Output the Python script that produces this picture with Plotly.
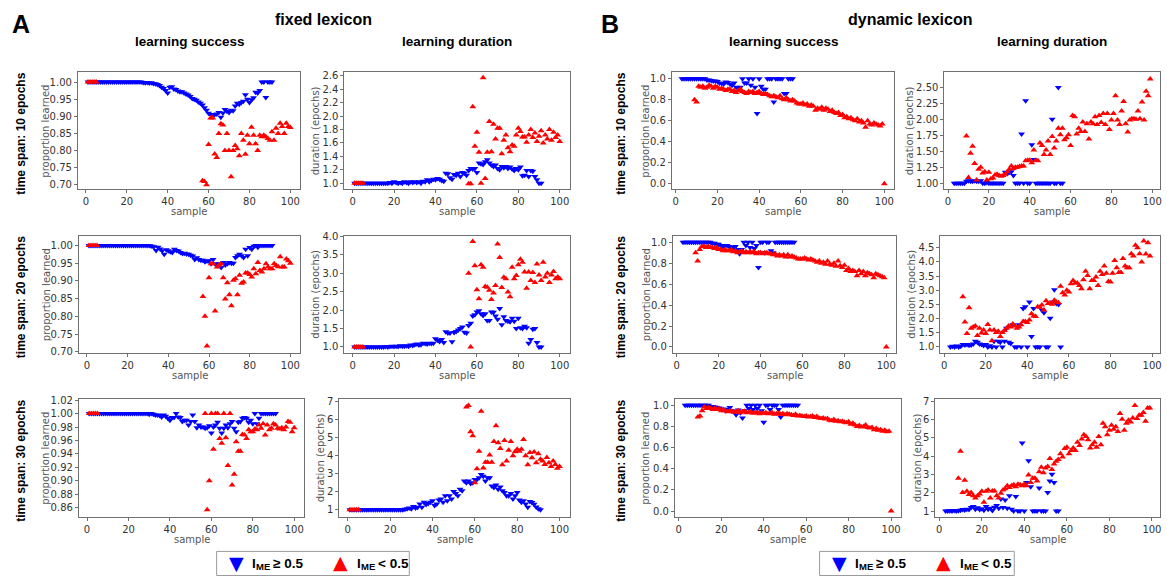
import plotly.graph_objects as go

W, H = 1167, 581

# ------------------------------------------------------------------ DATA
x_ticks = [0, 20, 40, 60, 80, 100]

# ---- A: fixed lexicon, time span 10 epochs
a10_succ_blue_x = list(range(1, 92))
a10_succ_blue_y = [1.0, 1.0, 1.0, 1.0, 1.0, 1.0, 1.0, 1.0, 1.0, 1.0,
                   1.0, 1.0, 1.0, 1.0, 1.0, 1.0, 1.0, 1.0, 1.0, 1.0,
                   1.0, 1.0, 1.0, 1.0, 1.0, 1.0, 1.0,
                   0.999, 0.998, 0.999, 0.997, 0.998, 0.996, 0.995, 0.993,
                   0.99, 0.985, 0.981, 0.975, 0.968, 0.985, 0.986, 0.98, 0.978, 0.974,
                   0.972, 0.972, 0.968, 0.965, 0.962, 0.958, 0.952, 0.95, 0.947, 0.942,
                   0.938, 0.933, 0.925, 0.918, 0.909,
                   0.905, 0.9, 0.905, 0.907, 0.911, 0.897, 0.91, 0.92, 0.915, 0.911,
                   0.918, 0.916, 0.93, 0.938, 0.935, 0.94, 0.944, 0.963, 0.95, 0.94,
                   0.948, 0.954, 0.97, 0.968, 0.975, 1.0, 1.0, 0.955, 1.0, 1.0, 1.0]
a10_succ_red_x = [1, 2, 3, 4, 5] + list(range(57, 101))
a10_succ_red_y = [1.0, 1.0, 1.0, 1.0, 1.0,
                  0.712, 0.71, 0.70, 0.818, 0.895, 0.895, 0.79, 0.78, 0.85, 0.878,
                  0.875, 0.80, 0.85, 0.80, 0.724, 0.80, 0.815, 0.805, 0.785, 0.85,
                  0.83, 0.789, 0.845, 0.82, 0.868, 0.845, 0.82, 0.80, 0.845, 0.84,
                  0.845, 0.84, 0.835, 0.83, 0.855, 0.83, 0.865, 0.85, 0.88, 0.87,
                  0.85, 0.88, 0.87, 0.867]
a10_dur_blue_x = list(range(1, 92))
a10_dur_blue_y = [1.0, 1.0, 1.0, 1.0, 1.0, 1.0, 1.0, 1.0, 1.0, 1.0,
                  1.0, 1.0, 1.0, 1.0, 1.0, 1.0, 1.0, 1.01, 1.0,
                  1.02, 1.01, 1.0, 1.01, 1.0, 1.02,
                  1.01, 1.0, 1.02, 1.01, 1.02, 1.01, 1.02, 1.0, 1.03, 1.02,
                  1.05, 1.02, 1.04, 1.06, 1.05, 1.07, 1.06, 1.04, 1.03, 1.15,
                  1.14, 1.08, 1.06, 1.13, 1.12, 1.15, 1.1, 1.16, 1.15, 1.12,
                  1.19, 1.22, 1.21, 1.22, 1.16, 1.3, 1.29, 1.28, 1.32, 1.35,
                  1.3, 1.27, 1.25, 1.27, 1.22, 1.2, 1.25, 1.23, 1.25, 1.22,
                  1.24, 1.21, 1.19, 1.22, 1.2, 1.24, 1.11, 1.12, 1.19, 1.1,
                  1.19, 1.18, 1.1, 1.05, 1.0, 1.0]
a10_dur_red_x = [1, 2, 3, 4, 5] + list(range(56, 101))
a10_dur_red_y = [1.0, 1.0, 1.0, 1.0, 1.0,
                 0.99, 0.99, 2.14, 1.55, 1.76, 1.46, 1.0, 2.57, 1.07, 1.46,
                 1.92, 1.47, 1.88, 1.66, 1.82, 1.82, 1.44, 1.64, 1.72, 1.53,
                 1.47, 1.57, 1.55, 1.72, 1.82, 1.77, 1.69, 1.69, 1.61, 1.72,
                 1.80, 1.68, 1.75, 1.62, 1.7, 1.78, 1.6, 1.72, 1.66, 1.8,
                 1.64, 1.76, 1.68, 1.72, 1.62]

# ---- A: fixed lexicon, time span 20 epochs
a20_succ_blue_x = list(range(1, 92))
a20_succ_blue_y = [1.0, 1.0, 1.0, 1.0, 1.0, 1.0, 1.0, 1.0, 1.0, 1.0,
                   1.0, 1.0, 1.0, 1.0, 1.0, 1.0, 1.0, 1.0, 1.0, 1.0,
                   1.0, 1.0, 1.0, 1.0, 1.0, 1.0, 1.0, 1.0, 1.0, 1.0,
                   0.999, 0.998, 0.996, 0.986, 0.995, 0.99, 0.985, 0.975, 0.988, 0.985,
                   0.982, 0.98, 0.989, 0.986, 0.984, 0.98, 0.977, 0.978, 0.976, 0.975,
                   0.972, 0.97, 0.96, 0.965, 0.96, 0.958, 0.958, 0.954, 0.956, 0.957,
                   0.948, 0.96, 0.948, 0.943, 0.948, 0.938, 0.952, 0.945, 0.948, 0.952,
                   0.95, 0.95, 0.966, 0.971, 0.975, 0.971, 0.966, 0.989, 0.971, 0.994,
                   0.989, 0.998, 1.0, 0.995, 1.0, 1.0, 1.0, 1.0, 1.0, 1.0, 1.0]
a20_succ_red_x = [1, 2, 3, 4, 5] + list(range(57, 101))
a20_succ_red_y = [1.0, 1.0, 1.0, 1.0, 1.0,
                  0.856, 0.80, 0.716, 0.909, 0.948, 0.948, 0.815, 0.939, 0.945, 0.948,
                  0.909, 0.849, 0.895, 0.861, 0.83, 0.902, 0.906, 0.861, 0.916, 0.893,
                  0.897, 0.922, 0.922, 0.918, 0.911, 0.934, 0.92, 0.952, 0.929, 0.925,
                  0.934, 0.948, 0.939, 0.934, 0.934, 0.948, 0.943, 0.94, 0.968, 0.939,
                  0.939, 0.962, 0.957, 0.95]
a20_dur_blue_x = list(range(1, 92))
a20_dur_blue_y = [1.0, 1.0, 1.0, 1.0, 1.0, 1.0, 1.0, 1.0, 1.0, 1.0,
                  1.0, 1.0, 1.0, 1.0, 1.0, 1.01, 1.0, 1.01, 1.02, 1.01,
                  1.02, 1.01, 1.03, 1.02, 1.02, 1.03, 1.02, 1.05, 1.04, 1.06,
                  1.08, 1.05, 1.06, 1.1, 1.09, 1.08, 1.1, 1.09, 1.1, 1.22,
                  1.18, 1.15, 1.2, 1.12, 1.41, 1.38, 1.38, 1.14, 1.39, 1.42,
                  1.46, 1.5, 1.54, 1.4, 1.38, 1.58, 1.64, 1.84, 1.87, 1.95,
                  1.98, 1.9, 1.85, 1.9, 1.72, 1.72, 1.95, 1.94, 1.84, 1.75,
                  2.04, 1.6, 1.82, 1.72, 1.7, 1.68, 1.78, 1.7, 1.5, 1.78,
                  1.52, 1.5, 1.56, 1.52, 1.1, 1.2, 1.48, 1.5, 1.12, 1.0, 1.0]
a20_dur_red_x = [1, 2, 3, 4, 5] + list(range(56, 101))
a20_dur_red_y = [1.0, 1.0, 1.0, 1.0, 1.0,
                 3.0, 1.0, 3.86, 3.2, 2.55, 2.31, 3.23, 3.16, 2.64, 2.62,
                 2.54, 2.29, 2.46, 2.67, 3.79, 3.43, 2.61, 2.89, 2.85, 2.49,
                 2.36, 3.16, 2.85, 2.94, 3.23, 3.38, 3.3, 3.03, 2.59, 3.03,
                 2.8, 3.02, 2.75, 3.25, 2.95, 2.8, 3.3, 2.9, 3.0, 2.75,
                 2.95, 3.05, 2.85, 2.9, 2.85]

# ---- A: fixed lexicon, time span 30 epochs
a30_succ_blue_x = list(range(1, 92))
a30_succ_blue_y = [1.0, 1.0, 1.0, 1.0, 1.0, 1.0, 1.0, 1.0, 1.0, 1.0,
                   1.0, 1.0, 1.0, 1.0, 1.0, 1.0, 1.0, 1.0, 1.0, 1.0,
                   1.0, 1.0, 1.0, 1.0, 1.0, 1.0, 1.0, 1.0, 1.0,
                   0.999, 1.0, 0.999, 0.998, 0.998, 0.997, 0.995, 0.998, 0.996, 0.993,
                   0.99, 0.994, 0.994, 1.0, 0.995, 0.994, 0.988, 0.99, 0.99, 0.983,
                   0.988, 0.998, 0.988, 0.979, 0.983, 0.98, 0.98, 0.978, 0.979, 0.982,
                   0.971, 0.98, 0.983, 0.987, 0.978, 0.971, 0.978, 0.983, 0.979, 0.985,
                   0.988, 0.978, 0.973, 0.987, 0.988, 0.993, 0.994, 0.993, 0.987, 0.99,
                   0.985, 1.0, 0.985, 0.993, 1.0, 1.0, 1.0, 1.0, 1.0, 1.0, 1.0, 1.0]
a30_succ_red_x = [1, 2, 3, 4, 5] + list(range(57, 101))
a30_succ_red_y = [1.0, 1.0, 1.0, 1.0, 1.0,
                  1.0, 0.857, 0.90, 1.0, 0.947, 1.0, 1.0, 0.963, 0.956, 1.0,
                  0.964, 0.923, 1.0, 0.894, 0.91, 0.958, 0.944, 0.944, 0.969, 0.968,
                  0.963, 0.976, 0.973, 0.973, 0.977, 0.976, 0.983, 0.978, 0.985, 0.968,
                  0.983, 0.976, 0.978, 0.985, 0.983, 0.978, 0.977, 0.979, 0.976, 0.98,
                  0.988, 0.987, 0.973, 0.979]
a30_dur_blue_x = list(range(1, 92))
a30_dur_blue_y = [1.0, 1.0, 1.0, 1.0, 1.0, 1.0, 1.0, 1.0, 1.0, 1.0,
                  1.0, 1.0, 1.0, 1.0, 1.0, 1.0, 1.0, 1.0, 1.0, 1.0,
                  1.0, 1.0, 1.0, 1.0, 1.0, 1.0,
                  1.02, 1.05, 1.1, 1.05, 1.18, 1.1, 1.14, 1.32, 1.14, 1.41,
                  1.29, 1.35, 1.41, 1.5, 1.23, 1.32, 1.54, 1.6, 1.41, 1.77,
                  1.5, 1.77, 1.6, 2.01, 1.9, 1.77, 2.14, 2.05, 2.59, 2.5,
                  2.59, 2.46, 2.5, 2.68, 2.68, 2.77, 2.95, 2.86, 2.59, 2.77,
                  2.77, 2.32, 2.23, 2.37, 2.14, 2.26, 2.05, 1.95, 1.77, 1.77,
                  1.9, 1.6, 1.77, 1.95, 1.54, 1.41, 1.5, 1.32, 1.14, 1.45,
                  1.4, 1.3, 1.15, 1.05, 1.0]
a30_dur_red_x = [1, 2, 3, 4, 5] + list(range(56, 101))
a30_dur_red_y = [1.0, 1.0, 1.0, 1.0, 1.0,
                 6.69, 6.77, 5.32, 5.1, 2.5, 3.27, 4.24, 6.46, 3.31, 3.63,
                 3.63, 4.03, 3.63, 4.78, 5.65, 4.71, 4.39, 3.49, 4.84, 3.7,
                 4.3, 4.78, 3.99, 4.21, 4.35, 4.24, 4.35, 4.89, 3.99, 3.49,
                 4.17, 3.88, 4.2, 3.6, 4.1, 3.8, 3.7, 3.5, 3.9, 3.6,
                 3.4, 3.7, 3.5, 3.3, 3.4]

# ---- B: dynamic lexicon, time span 10 epochs
b10_succ_blue_x = list(range(3, 57))
b10_succ_blue_y = [1.0, 1.0, 1.0, 1.0, 1.0, 1.0, 1.0, 1.0, 1.0, 1.0, 1.0, 1.0,
                   0.99, 0.99, 0.985, 0.98, 0.98, 0.975, 0.96, 0.955, 0.95, 0.97,
                   0.965, 0.95, 0.94, 0.96, 0.92, 0.91, 0.92, 1.0, 0.96, 0.96,
                   1.0, 0.94, 1.0, 0.92, 0.67, 1.0, 0.93, 0.9, 0.9, 1.0,
                   1.0, 1.0, 0.78, 1.0, 1.0, 1.0, 1.0, 0.86, 0.86, 1.0,
                   1.0, 1.0]
b10_succ_red_x = list(range(9, 101))
b10_succ_red_y = [0.80, 0.78, 0.93, 0.92, 0.93, 0.91, 0.92, 0.94, 0.93, 0.91,
                  0.93, 0.92, 0.9, 0.91, 0.9, 0.89, 0.9, 0.9, 0.88, 0.89,
                  0.87, 0.89, 0.9, 0.88, 0.87, 0.86, 0.88, 0.87, 0.88, 0.86,
                  0.87, 0.88, 0.86, 0.85, 0.86, 0.85, 0.84, 0.83, 0.84, 0.83,
                  0.82, 0.84, 0.81, 0.8, 0.82, 0.8, 0.79, 0.8, 0.79, 0.77,
                  0.76, 0.76, 0.77, 0.75, 0.76, 0.74, 0.75, 0.74, 0.7, 0.72,
                  0.71, 0.73, 0.7, 0.72, 0.71, 0.69, 0.7, 0.68, 0.67, 0.68,
                  0.65, 0.66, 0.63, 0.64, 0.62, 0.63, 0.61, 0.6, 0.62, 0.59,
                  0.6, 0.58, 0.54, 0.6, 0.57, 0.56, 0.58, 0.57, 0.56, 0.55,
                  0.57, 0.0]
b10_dur_blue_x = list(range(3, 57))
b10_dur_blue_y = [1.0, 1.0, 1.0, 1.0, 1.0, 1.0,
                  1.03, 1.04, 1.03, 1.03, 1.04, 1.03, 1.03, 1.04, 1.0, 1.0,
                  1.01, 1.0, 1.0, 1.0, 1.0, 1.0, 1.0, 1.0, 1.0, 1.17,
                  1.15, 1.17, 1.18, 1.12, 1.0, 1.0, 1.0, 1.77, 1.0, 2.29,
                  1.0, 1.0, 1.6, 1.37, 1.0, 1.0, 1.0, 1.0, 1.0, 1.0,
                  1.0, 1.0, 2.0, 1.0, 1.0, 2.5, 1.0, 1.0]
b10_dur_red_x = list(range(9, 100))
b10_dur_red_y = [1.74, 1.09, 1.47, 1.58, 1.31, 1.05, 1.22, 1.25, 1.16, 1.18,
                 1.05, 1.17, 1.07, 1.08, 1.13, 1.14, 1.12, 1.11, 1.12, 1.14,
                 1.18, 1.22, 1.27, 1.23, 1.25, 1.25, 1.26, 1.27, 1.27, 1.35,
                 1.36, 1.36, 1.32, 1.52, 1.36, 1.35, 1.63, 1.59, 1.45, 1.52,
                 1.66, 1.45, 1.73, 1.55, 1.66, 1.86, 1.76, 1.86, 1.68, 1.71,
                 1.76, 1.59, 2.06, 2.04, 1.77, 1.86, 1.81, 1.96, 1.81, 1.93,
                 1.69, 1.96, 1.93, 2.04, 1.92, 2.06, 1.95, 2.09, 1.92, 2.09,
                 1.84, 1.99, 2.09, 2.37, 1.99, 1.92, 2.13, 2.28, 1.93, 1.8,
                 1.99, 2.01, 2.01, 2.0, 2.13, 2.01, 2.27, 1.99, 2.44, 2.37,
                 2.63]

# ---- B: dynamic lexicon, time span 20 epochs
b20_succ_blue_x = list(range(3, 57))
b20_succ_blue_y = [1.0, 1.0, 1.0, 1.0, 1.0, 1.0, 1.0, 1.0, 1.0, 1.0, 1.0, 1.0, 1.0, 1.0,
                   0.99, 0.99, 0.98, 0.98, 0.97, 0.96, 0.97, 0.97, 0.96, 0.95,
                   0.94, 0.96, 0.93, 0.89, 0.93, 1.0, 0.97, 1.0, 0.95, 1.0,
                   0.94, 0.97, 0.76, 1.0, 1.0, 0.9, 1.0, 1.0, 0.92, 0.9,
                   1.0, 1.0, 1.0, 1.0, 1.0, 1.0, 1.0, 1.0, 1.0, 1.0]
b20_succ_red_x = list(range(9, 101))
b20_succ_red_y = [0.9, 0.82, 0.93, 0.96, 0.96, 0.95, 0.96, 0.95, 0.95, 0.94,
                  0.95, 0.93, 0.93, 0.92, 0.93, 0.92, 0.92, 0.93, 0.91, 0.92,
                  0.9, 0.91, 0.92, 0.9, 0.91, 0.9, 0.91, 0.9, 0.91, 0.89,
                  0.9, 0.9, 0.89, 0.9, 0.9, 0.89, 0.89, 0.88, 0.89, 0.87,
                  0.88, 0.87, 0.88, 0.86, 0.88, 0.86, 0.87, 0.86, 0.85, 0.84,
                  0.84, 0.84, 0.85, 0.84, 0.83, 0.84, 0.83, 0.82, 0.81, 0.82,
                  0.8, 0.81, 0.79, 0.82, 0.79, 0.78, 0.8, 0.77, 0.82, 0.775,
                  0.76, 0.78, 0.73, 0.75, 0.72, 0.73, 0.72, 0.68, 0.73, 0.7,
                  0.72, 0.68, 0.71, 0.7, 0.69, 0.66, 0.7, 0.69, 0.68, 0.67,
                  0.66, 0.0]
b20_dur_blue_x = list(range(3, 57))
b20_dur_blue_y = [1.0, 1.02, 1.0, 1.03, 1.0, 1.02, 1.08, 1.07, 1.08, 1.06,
                  1.07, 1.1, 1.2, 1.16, 1.1, 1.08, 1.05, 1.08, 1.0, 1.04,
                  1.0, 1.2, 1.0, 1.2, 1.16, 1.0, 1.2, 1.66, 1.16, 1.12,
                  1.78, 1.0, 1.0, 1.78, 1.0, 2.36, 2.42, 1.0, 2.59, 1.37,
                  2.36, 1.0, 1.0, 1.0, 2.3, 2.21, 1.0, 1.0, 2.01, 2.59,
                  3.02, 2.53, 2.5, 1.0]
b20_dur_red_x = list(range(9, 100))
b20_dur_red_y = [2.77, 1.88, 1.47, 2.38, 1.66, 1.7, 1.74, 1.4, 1.66, 1.49,
                 1.6, 1.47, 1.79, 1.6, 1.22, 1.6, 1.51, 1.55, 1.37, 1.51,
                 1.58, 1.66, 1.74, 1.7, 1.81, 1.74, 1.66, 1.7, 1.78, 1.9,
                 1.9, 1.86, 1.95, 2.17, 2.09, 2.07, 2.42, 2.4, 2.48, 2.3,
                 2.63, 2.53, 2.53, 2.51, 2.65, 2.59, 2.56, 3.14, 2.91, 2.83,
                 3.0, 2.94, 3.23, 3.35, 3.26, 3.26, 3.17, 3.05, 3.37, 3.67,
                 3.52, 3.05, 3.35, 3.35, 3.47, 3.17, 3.67, 3.56, 3.86, 3.6,
                 3.31, 3.29, 3.6, 4.05, 3.8, 3.63, 3.63, 4.12, 3.86, 3.8,
                 3.8, 4.29, 4.21, 4.59, 4.5, 4.29, 4.0, 4.74, 4.28, 4.68,
                 4.21]

# ---- B: dynamic lexicon, time span 30 epochs
b30_succ_blue_x = list(range(3, 57))
b30_succ_blue_y = [1.0, 1.0, 1.0, 1.0, 1.0, 1.0, 1.0, 1.0, 1.0, 1.0, 1.0, 1.0,
                   0.99, 0.99, 0.985, 0.98, 0.975, 0.96, 0.965, 0.95, 0.96, 0.98,
                   0.95, 0.94, 0.91, 0.955, 0.93, 0.88, 0.95, 1.0, 0.97, 1.0,
                   0.96, 1.0, 0.97, 1.0, 0.95, 0.84, 1.0, 1.0, 0.96, 1.0,
                   1.0, 1.0, 0.96, 0.89, 1.0, 1.0, 1.0, 1.0, 1.0, 1.0,
                   1.0, 1.0]
b30_succ_red_x = list(range(9, 101))
b30_succ_red_y = [0.89, 0.9, 0.95, 0.985, 0.97, 0.98, 0.97, 0.96, 0.975, 0.96,
                  0.97, 0.95, 0.96, 0.95, 0.94, 0.95, 0.945, 0.935, 0.94, 0.95,
                  0.93, 0.94, 0.945, 0.93, 0.935, 0.94, 0.925, 0.93, 0.935, 0.92,
                  0.93, 0.925, 0.93, 0.92, 0.925, 0.93, 0.915, 0.92, 0.925, 0.915,
                  0.92, 0.91, 0.92, 0.915, 0.91, 0.905, 0.915, 0.9, 0.905, 0.9,
                  0.895, 0.9, 0.89, 0.895, 0.9, 0.885, 0.895, 0.88, 0.875, 0.88,
                  0.87, 0.875, 0.86, 0.855, 0.865, 0.85, 0.855, 0.845, 0.85, 0.84,
                  0.835, 0.845, 0.82, 0.83, 0.815, 0.8, 0.81, 0.795, 0.8, 0.815,
                  0.79, 0.785, 0.79, 0.77, 0.78, 0.765, 0.77, 0.755, 0.765, 0.75,
                  0.755, 0.0]
b30_dur_blue_x = list(range(3, 57))
b30_dur_blue_y = [1.0, 1.0, 1.02, 1.0, 1.03, 1.0, 1.02, 1.05, 1.08, 1.06,
                  1.1, 1.08, 1.2, 1.25, 1.1, 1.18, 1.08, 1.13, 1.05, 1.25,
                  1.1, 1.15, 1.03, 1.21, 1.3, 1.15, 1.66, 1.2, 1.61, 1.15,
                  1.84, 1.1, 1.0, 1.79, 1.0, 1.0, 4.72, 1.0, 2.56, 3.76,
                  2.33, 1.0, 1.0, 1.0, 2.26, 1.0, 1.0, 1.0, 2.02, 2.65,
                  3.01, 2.56, 1.0, 1.0]
b30_dur_red_x = list(range(9, 100))
b30_dur_red_y = [2.8, 4.27, 2.02, 2.69, 2.08, 1.9, 2.02, 1.84, 1.72, 1.84,
                 1.93, 2.08, 1.48, 2.08, 2.15, 1.72, 2.1, 2.1, 1.84, 1.72,
                 1.97, 2.15, 2.22, 2.38, 2.29, 2.38, 2.44, 2.33, 2.47, 2.44,
                 2.38, 2.47, 2.38, 2.97, 2.56, 2.8, 2.8, 2.65, 3.15, 3.4,
                 3.1, 3.36, 3.44, 3.87, 3.28, 3.58, 3.73, 3.82, 4.13, 3.96,
                 4.42, 4.49, 4.13, 4.31, 4.45, 4.31, 4.77, 4.59, 4.95, 5.17,
                 5.08, 4.9, 4.45, 4.63, 4.77, 4.49, 5.08, 4.63, 5.8, 5.61,
                 5.17, 5.43, 5.7, 5.48, 5.61, 5.35, 6.34, 6.03, 5.43, 5.8,
                 5.97, 5.88, 6.1, 6.78, 6.06, 6.24, 6.24, 6.39, 5.92, 6.64,
                 6.64]

# y tick values per panel
yt_a_succ_12 = [0.70, 0.75, 0.80, 0.85, 0.90, 0.95, 1.00]
yt_a_succ_3 = [0.86, 0.88, 0.90, 0.92, 0.94, 0.96, 0.98, 1.00, 1.02]
yt_a10_dur = [1.0, 1.2, 1.4, 1.6, 1.8, 2.0, 2.2, 2.4, 2.6]
yt_a20_dur = [1.0, 1.5, 2.0, 2.5, 3.0, 3.5, 4.0]
yt_dur_30 = [1, 2, 3, 4, 5, 6, 7]
yt_b_succ = [0.0, 0.2, 0.4, 0.6, 0.8, 1.0]
yt_b10_dur = [1.00, 1.25, 1.50, 1.75, 2.00, 2.25, 2.50]
yt_b20_dur = [1.0, 1.5, 2.0, 2.5, 3.0, 3.5, 4.0, 4.5]

# ------------------------------------------------------------------ LAYOUT
ROW_PX = [(68.5, 187.0), (234.3, 353.3), (400.0, 520.0)]
TICK_FONT = dict(family="DejaVu Sans", size=10, color="#333333")
TITLE_FONT = dict(family="DejaVu Sans", size=10, color="#555555")
BOLD = "Liberation Sans"
BLUE = "#0000ff"
RED = "#ff0000"

panels = [
    # row 0
    dict(row=0, cols=(78, 301), bx=a10_succ_blue_x, by=a10_succ_blue_y, rx=a10_succ_red_x, ry=a10_succ_red_y,
         yr=[0.6876, 1.028], yt=yt_a_succ_12, fmt=".2f", xr=[-3.95, 104.95], yl="proportion learned", ylx=46),
    dict(row=0, cols=(345, 571), bx=a10_dur_blue_x, by=a10_dur_blue_y, rx=a10_dur_red_x, ry=a10_dur_red_y,
         yr=[0.912, 2.651], yt=yt_a10_dur, fmt=".1f", xr=[-3.95, 104.95], yl="duration (epochs)", ylx=316),
    dict(row=0, cols=(673, 896), bx=b10_succ_blue_x, by=b10_succ_blue_y, rx=b10_succ_red_x, ry=b10_succ_red_y,
         yr=[-0.05, 1.061], yt=yt_b_succ, fmt=".1f", xr=[-1.85, 104.85], yl="proportion learned", ylx=647),
    dict(row=0, cols=(946, 1162), bx=b10_dur_blue_x, by=b10_dur_blue_y, rx=b10_dur_red_x, ry=b10_dur_red_y,
         yr=[0.9075, 2.734], yt=yt_b10_dur, fmt=".2f", xr=[-1.8, 103.8], yl="duration (epochs)", ylx=911),
    # row 1
    dict(row=1, cols=(79, 301), bx=a20_succ_blue_x, by=a20_succ_blue_y, rx=a20_succ_red_x, ry=a20_succ_red_y,
         yr=[0.697, 1.0275], yt=yt_a_succ_12, fmt=".2f", xr=[-3.95, 104.95], yl="proportion learned", ylx=46),
    dict(row=1, cols=(345, 571), bx=a20_dur_blue_x, by=a20_dur_blue_y, rx=a20_dur_red_x, ry=a20_dur_red_y,
         yr=[0.84, 4.019], yt=yt_a20_dur, fmt=".1f", xr=[-3.95, 104.95], yl="duration (epochs)", ylx=316),
    dict(row=1, cols=(674, 898), bx=b20_succ_blue_x, by=b20_succ_blue_y, rx=b20_succ_red_x, ry=b20_succ_red_y,
         yr=[-0.056, 1.063], yt=yt_b_succ, fmt=".1f", xr=[-1.85, 104.85], yl="proportion learned", ylx=647),
    dict(row=1, cols=(942, 1162), bx=b20_dur_blue_x, by=b20_dur_blue_y, rx=b20_dur_red_x, ry=b20_dur_red_y,
         yr=[0.79, 4.93], yt=yt_b20_dur, fmt=".1f", xr=[-1.8, 103.8], yl="duration (epochs)", ylx=913),
    # row 2
    dict(row=2, cols=(79, 305), bx=a30_succ_blue_x, by=a30_succ_blue_y, rx=a30_succ_red_x, ry=a30_succ_red_y,
         yr=[0.8464, 1.0219], yt=yt_a_succ_3, fmt=".2f", xr=[-3.95, 104.95], yl="proportion learned", ylx=46),
    dict(row=2, cols=(340, 571), bx=a30_dur_blue_x, by=a30_dur_blue_y, rx=a30_dur_red_x, ry=a30_dur_red_y,
         yr=[0.60, 7.147], yt=yt_dur_30, fmt="d", xr=[-3.95, 104.95], yl="duration (epochs)", ylx=321),
    dict(row=2, cols=(676, 903), bx=b30_succ_blue_x, by=b30_succ_blue_y, rx=b30_succ_red_x, ry=b30_succ_red_y,
         yr=[-0.056, 1.062], yt=yt_b_succ, fmt=".1f", xr=[-1.85, 104.85], yl="proportion learned", ylx=647),
    dict(row=2, cols=(937, 1162), bx=b30_dur_blue_x, by=b30_dur_blue_y, rx=b30_dur_red_x, ry=b30_dur_red_y,
         yr=[0.677, 7.145], yt=yt_dur_30, fmt="d", xr=[-1.8, 103.8], yl="duration (epochs)", ylx=919),
]


def fx(p):
    return p / W


def fy(p):
    return 1 - p / H


fig = go.Figure()
layout = {}
annotations = []

for i, p in enumerate(panels, start=1):
    xa = "x" if i == 1 else f"x{i}"
    ya = "y" if i == 1 else f"y{i}"
    top, bot = ROW_PX[p["row"]]
    l, r = p["cols"]
    fig.add_trace(go.Scatter(x=p["bx"], y=p["by"], mode="markers", xaxis=xa, yaxis=ya,
                             marker=dict(symbol="triangle-down", size=6, color=BLUE, line=dict(width=0)),
                             showlegend=False, hoverinfo="x+y"))
    fig.add_trace(go.Scatter(x=p["rx"], y=p["ry"], mode="markers", xaxis=xa, yaxis=ya,
                             marker=dict(symbol="triangle-up", size=6, color=RED, line=dict(width=0)),
                             showlegend=False, hoverinfo="x+y"))
    axis_common = dict(showline=True, mirror=True, linecolor="#707070", linewidth=1,
                       ticks="outside", ticklen=3, tickwidth=1, tickcolor="#707070",
                       showgrid=False, zeroline=False, tickfont=TICK_FONT, fixedrange=True,
                       ticklabeloverflow="allow")
    layout["xaxis" if i == 1 else f"xaxis{i}"] = dict(
        domain=[fx(l), fx(r)], range=p["xr"], anchor=ya, tickmode="array", tickvals=x_ticks, **axis_common)
    layout["yaxis" if i == 1 else f"yaxis{i}"] = dict(
        domain=[fy(bot), fy(top)], range=p["yr"], anchor=xa, tickmode="array", tickvals=p["yt"],
        tickformat=p["fmt"], **axis_common)
    # axis titles
    annotations.append(dict(text="sample", x=fx((l + r) / 2), y=fy(bot + 23), xref="paper", yref="paper",
                            showarrow=False, font=TITLE_FONT, xanchor="center", yanchor="middle"))
    annotations.append(dict(text=p["yl"], x=fx(p["ylx"]), y=fy((top + bot) / 2), xref="paper", yref="paper",
                            showarrow=False, font=TITLE_FONT, textangle=-90, xanchor="center", yanchor="middle"))


def add_text(text, xp, yp, size, angle=0, color="#000000", family=BOLD, xanchor="center"):
    annotations.append(dict(text=text, x=fx(xp), y=fy(yp), xref="paper", yref="paper", showarrow=False,
                            textangle=angle, xanchor=xanchor, yanchor="middle",
                            font=dict(family=family, size=size, color=color)))


# panel letters and headings
add_text("<b>A</b>", 21, 19, 25)
add_text("<b>B</b>", 611, 19, 25)
add_text("<b>fixed lexicon</b>", 324, 15, 16)
add_text("<b>dynamic lexicon</b>", 912, 15, 16)
add_text("<b>learning success</b>", 190, 37, 13.5)
add_text("<b>learning duration</b>", 458, 37, 13.5)
add_text("<b>learning success</b>", 785, 37, 13.5)
add_text("<b>learning duration</b>", 1054, 37, 13.5)

# row labels
row_names = ["time span: 10 epochs", "time span: 20 epochs", "time span: 30 epochs"]
for (top, bot), name in zip(ROW_PX, row_names):
    add_text(f"<b>{name}</b>", 21, (top + bot) / 2 + 3, 12, angle=-90)
    add_text(f"<b>{name}</b>", 622, (top + bot) / 2 + 3, 12, angle=-90)


def legend_label(x_left, y, rest):
    # "I" with subscript "ME", followed by the comparison text
    add_text("<b>I</b>", x_left, y, 13.5, xanchor="left")
    add_text("<b>ME</b>", x_left + 4, y + 3.5, 9.5, xanchor="left")
    add_text(f"<b>{rest}</b>", x_left + 21, y, 13.5, xanchor="left")


# legends (one per lexicon block)
shapes = []
for (l, r) in [(217, 410), (821, 1016)]:
    shapes.append(dict(type="rect", xref="paper", yref="paper", x0=fx(l), x1=fx(r), y0=fy(579.5), y1=fy(555),
                       line=dict(color="#9a9a9a", width=1), fillcolor="white"))
    add_text("▼", l + 20, 567, 19, color=BLUE, family="DejaVu Sans")
    legend_label(l + 33, 567, "≥ 0.5")
    add_text("▲", l + 124, 566, 19, color=RED, family="DejaVu Sans")
    legend_label(l + 139, 567, "&lt; 0.5")

fig.update_layout(
    width=W, height=H, autosize=False,
    margin=dict(l=0, r=0, t=0, b=0),
    paper_bgcolor="white", plot_bgcolor="white",
    showlegend=False,
    annotations=annotations, shapes=shapes,
    **layout,
)

# remove the browser's default page margin so the figure fills the window exactly
fig.write_html("out.html", config={"displayModeBar": False},
               post_script="document.body.style.margin='0px';document.body.style.padding='0px';")
